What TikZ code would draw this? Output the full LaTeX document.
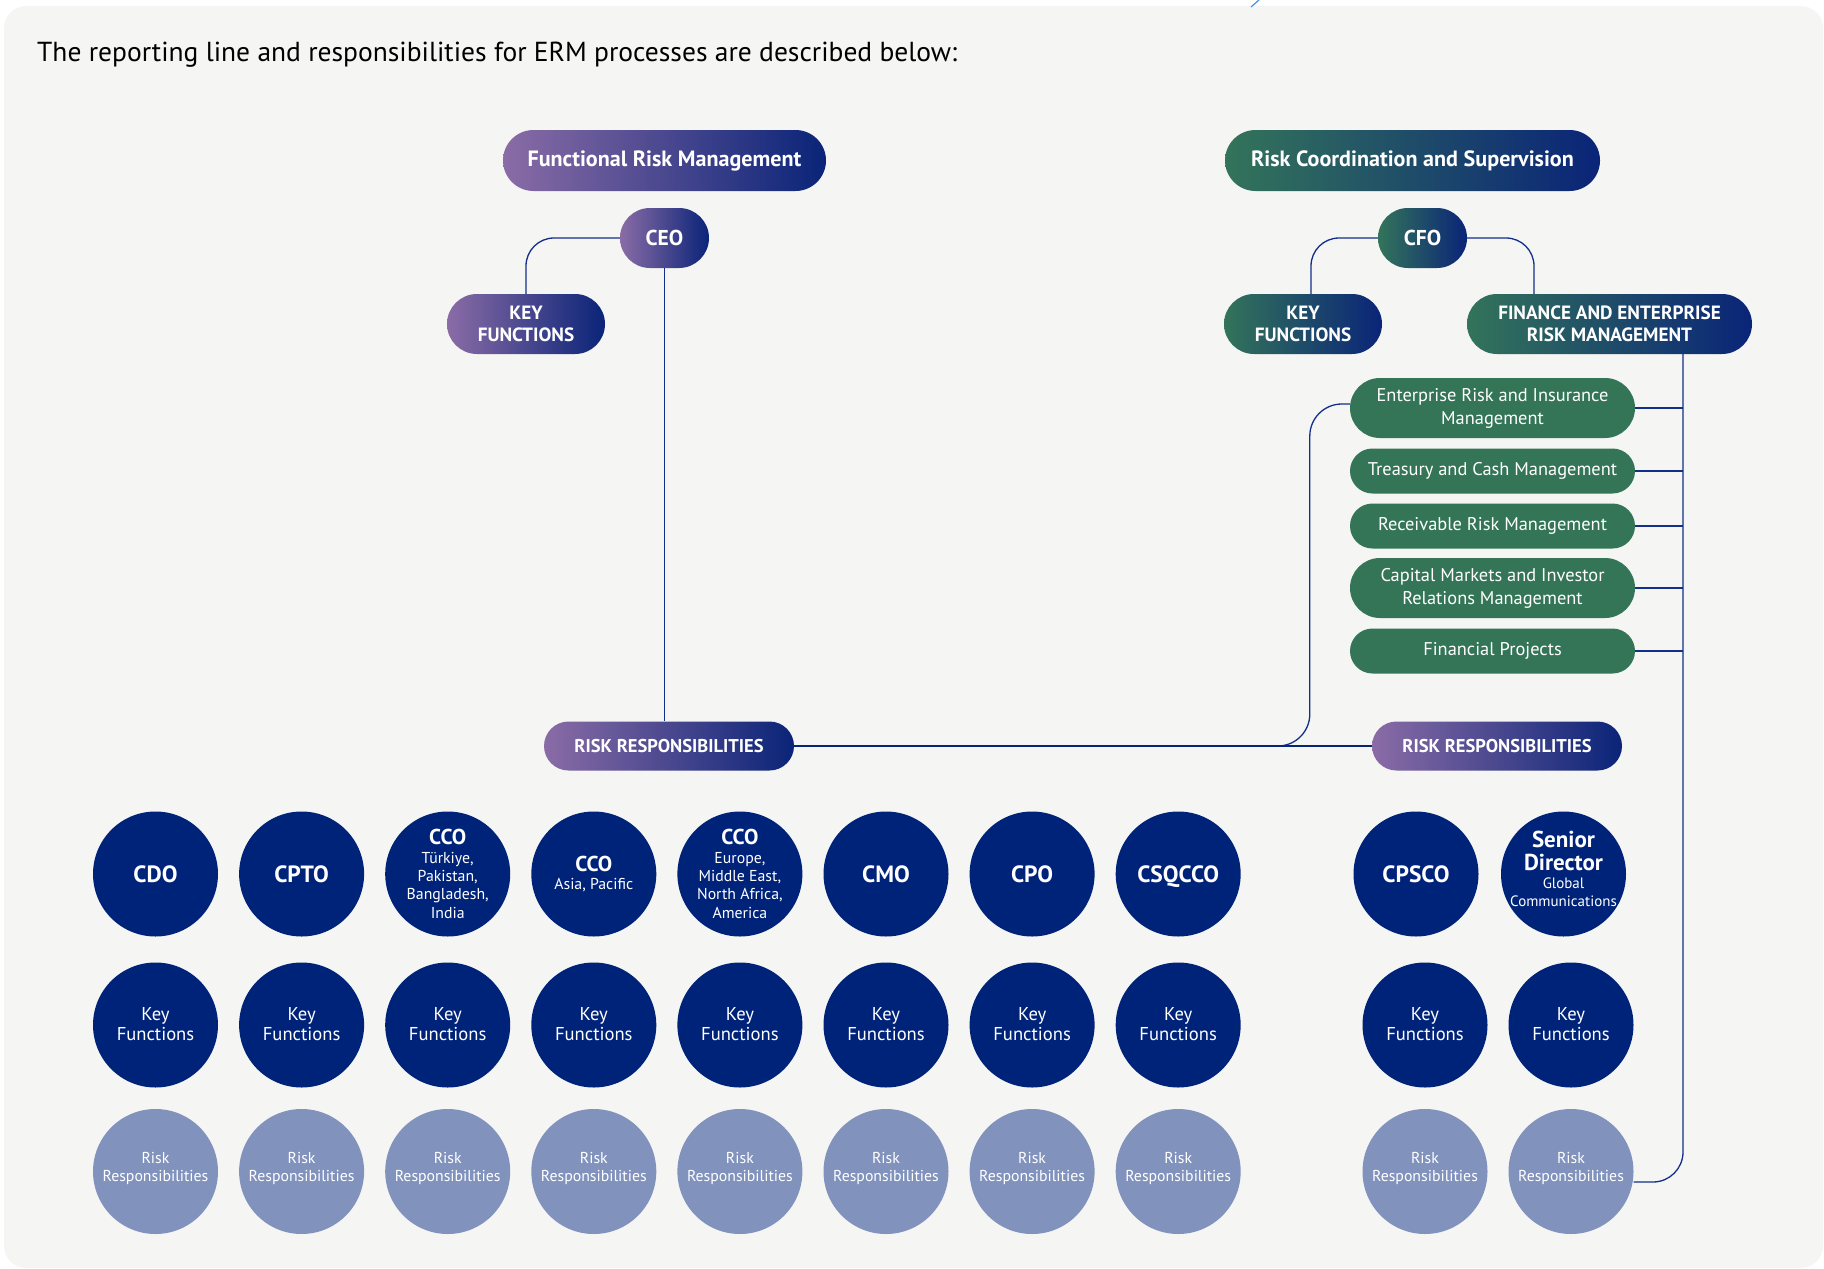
\documentclass[tikz,border=0pt]{standalone}
\usepackage{fontspec}
\setmainfont{PT Sans}
\definecolor{bgC}{HTML}{F5F5F3}
\definecolor{purpC}{HTML}{8A6CA6}
\definecolor{navyC}{HTML}{0A2478}
\definecolor{greenC}{HTML}{33745A}
\definecolor{boxC}{HTML}{337556}
\definecolor{dcC}{HTML}{00237A}
\definecolor{lcC}{HTML}{8192BD}
\definecolor{lineC}{HTML}{12308A}
\definecolor{artC}{HTML}{4A90D9}
\begin{document}
\begin{tikzpicture}[x=1pt,y=-1pt,
  pill/.style={rectangle, inner sep=0pt, text=white, align=center},
  ppill/.style={pill, left color=purpC, right color=navyC},
  gpill/.style={pill, left color=greenC, right color=navyC},
  gbox/.style={pill, fill=boxC, minimum width=285pt, font=\fontsize{18.4}{23}\selectfont},
  bigfont/.style={font=\bfseries\fontsize{22.1}{26}\selectfont},
  capsfont/.style={font=\bfseries\fontsize{19.2}{21.5}\selectfont},
  rrfont/.style={font=\bfseries\fontsize{18.5}{21}\selectfont},
  dcirc/.style={circle, fill=dcC, minimum size=125pt, inner sep=0pt},
  lcirc/.style={circle, fill=lcC, minimum size=125pt, inner sep=0pt},
  ctext/.style={text=white, align=center, inner sep=0pt},
  kftext/.style={ctext, font=\fontsize{18.6}{20.5}\selectfont},
  rrtext/.style={ctext, font=\fontsize{15.8}{18}\selectfont},
  hd/.style={ctext, anchor=base, font=\bfseries\fontsize{23.5}{25}\selectfont},
  subt/.style={ctext, font=\fontsize{15.8}{18.3}\selectfont},
  conn/.style={draw=lineC, line width=1.3pt},
]
\useasboundingbox (0,0) rectangle (1824,1269);
\fill[bgC, rounded corners=22pt] (4,6) rectangle (1823,1268);
\draw[artC, line width=1.2pt] (1251,7) -- (1259,0);

\node[anchor=base west, inner sep=0pt, font=\fontsize{27.5}{33}\selectfont] (title) at (37,61)
  {The reporting line and responsibilities for ERM processes are described below:};

% left group
\node[ppill, bigfont, minimum width=323pt, minimum height=61pt, rounded corners=30.5pt] (frm) at (664.5,160.5) {Functional Risk Management};
\node[ppill, font=\bfseries\fontsize{21.5}{24}\selectfont, minimum width=89pt, minimum height=60pt, rounded corners=30pt] (ceo) at (664.5,238) {CEO};
\node[ppill, capsfont, minimum width=158pt, minimum height=60pt, rounded corners=30pt] (kfl) at (526,324) {KEY\\FUNCTIONS};
\node[ppill, rrfont, minimum width=250pt, minimum height=49pt, rounded corners=24.5pt] (rrl) at (669,746) {RISK RESPONSIBILITIES};

% right group
\node[gpill, bigfont, minimum width=375pt, minimum height=61pt, rounded corners=30.5pt] (rcs) at (1412.5,160.5) {Risk Coordination and Supervision};
\node[gpill, font=\bfseries\fontsize{21.5}{24}\selectfont, minimum width=89pt, minimum height=60pt, rounded corners=30pt] (cfo) at (1422.5,238) {CFO};
\node[gpill, capsfont, minimum width=158pt, minimum height=60pt, rounded corners=30pt] (kfr) at (1303,324) {KEY\\FUNCTIONS};
\node[gpill, capsfont, minimum width=285pt, minimum height=60pt, rounded corners=30pt] (ferm) at (1609.5,324) {FINANCE AND ENTERPRISE\\RISK MANAGEMENT};
\node[ppill, rrfont, minimum width=250pt, minimum height=49pt, rounded corners=24.5pt] (rrr) at (1497,746) {RISK RESPONSIBILITIES};

\node[gbox, minimum height=60pt, rounded corners=30pt] (g1) at (1492.5,408) {Enterprise Risk and Insurance\\Management};
\node[gbox, minimum height=45pt, rounded corners=22.5pt] (g2) at (1492.5,471) {Treasury and Cash Management};
\node[gbox, minimum height=45pt, rounded corners=22.5pt] (g3) at (1492.5,526) {Receivable Risk Management};
\node[gbox, minimum height=60pt, rounded corners=30pt] (g4) at (1492.5,588) {Capital Markets and Investor\\Relations Management};
\node[gbox, minimum height=45pt, rounded corners=22.5pt] (g5) at (1492.5,651) {Financial Projects};

% circles
\foreach \i/\x in {1/155.5,2/301.6,3/447.7,4/593.8,5/739.9,6/886,7/1032.1,8/1178.2,9/1416,10/1563.5}{
  \node[dcirc] (a\i) at (\x,874) {};
}
\foreach \i/\x in {1/155.5,2/301.6,3/447.7,4/593.8,5/739.9,6/886,7/1032.1,8/1178.2,9/1425,10/1571}{
  \node[dcirc] (k\i) at (\x,1025) {};
  \node[lcirc] (r\i) at (\x,1171.5) {};
  \node[kftext] (kt\i) at ([yshift=1pt]k\i.center) {Key\\Functions};
  \node[rrtext] (rt\i) at ([yshift=3pt]r\i.center) {Risk\\Responsibilities};
}
\node[hd] (at1) at ([yshift=-8pt]a1.center) {CDO};
\node[hd] (at2) at ([yshift=-8pt]a2.center) {CPTO};
\node[subt] (at3) at (a3) {{\bfseries\fontsize{21.5}{22}\selectfont CCO}\\Türkiye,\\Pakistan,\\Bangladesh,\\India};
\node[subt] (at4) at (a4) {{\bfseries\fontsize{21.5}{22}\selectfont CCO}\\Asia, Pacific};
\node[subt] (at5) at (a5) {{\bfseries\fontsize{21.5}{22}\selectfont CCO}\\Europe,\\Middle East,\\North Africa,\\America};
\node[hd] (at6) at ([yshift=-8pt]a6.center) {CMO};
\node[hd] (at7) at ([yshift=-8pt]a7.center) {CPO};
\node[hd] (at8) at ([yshift=-8pt]a8.center) {CSQCCO};
\node[hd] (at9) at ([yshift=-8pt]a9.center) {CPSCO};
\node[ctext, font=\fontsize{15}{18}\selectfont] (at10) at ([yshift=5pt]a10.center) {{\bfseries\fontsize{23}{23}\selectfont Senior}\\[5.5pt]{\bfseries\fontsize{23}{23}\selectfont Director}\\Global\\Communications};

% connectors
\coordinate (kfrtop) at ([xshift=8pt]kfr.north);
\coordinate (fermtop) at ([xshift=-75.5pt]ferm.north);
\coordinate (fl) at ([xshift=73.5pt]ferm.south);
\coordinate (lp) at ([xshift=-40pt]g1.west);
\coordinate (rrend) at ([yshift=-10.5pt]r10.east);

\draw[conn, rounded corners=28pt] (ceo.west) -| (kfl.north);
\draw[conn] (ceo.south) -- (ceo.south |- rrl.north);
\draw[conn, rounded corners=28pt] (cfo.west) -| (kfrtop);
\draw[conn, rounded corners=28pt] (cfo.east) -| (fermtop);
\draw[conn, rounded corners=30pt] (fl) |- (rrend);
\foreach \g in {g1,g2,g3,g4,g5}{
  \draw[conn] (\g.east) -- (\g.east -| fl);
}
\draw[conn, rounded corners=32pt] ([yshift=4pt]g1.west) -| (lp |- rrl.east) -- ([xshift=-100pt]lp |- rrl.east);
\draw[draw=navyC, line width=2.2pt] (rrl.east) -- (rrr.west);
\end{tikzpicture}
\end{document}
